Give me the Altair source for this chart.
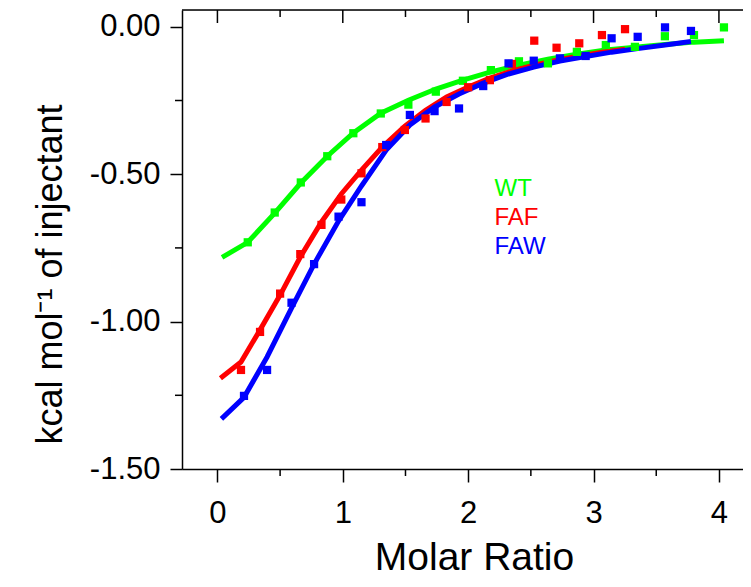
import altair as alt
import pandas as pd

# ---------------- data ----------------
series_names = ["WT", "FAF", "FAW"]
series_colors = ["#00FF00", "#FF0000", "#0000FF"]

wt_x = [0.242, 0.457, 0.665, 0.876, 1.084, 1.303, 1.523, 1.742, 1.958, 2.181,
        2.405, 2.636, 2.867, 3.098, 3.330, 3.569, 3.801, 4.040]
wt_y = [-0.731, -0.630, -0.528, -0.439, -0.361, -0.294, -0.264, -0.220, -0.183, -0.147,
        -0.117, -0.124, -0.085, -0.062, -0.068, -0.032, -0.028, -0.002]
wt_fit_x = [0.037] + wt_x
wt_fit_y = [-0.782, -0.731, -0.632, -0.530, -0.439, -0.360, -0.293, -0.249, -0.211, -0.181,
            -0.153, -0.130, -0.110, -0.093, -0.079, -0.069, -0.060, -0.052, -0.047]

faf_x = [0.188, 0.340, 0.500, 0.661, 0.830, 0.988, 1.149, 1.315, 1.495, 1.660,
         1.828, 2.000, 2.173, 2.349, 2.527, 2.705, 2.886, 3.067, 3.251]
faf_y = [-1.164, -1.035, -0.905, -0.771, -0.672, -0.586, -0.497, -0.408, -0.350, -0.311,
         -0.255, -0.205, -0.181, -0.126, -0.047, -0.071, -0.056, -0.028, -0.008]
faf_fit_x = [0.024] + faf_x
faf_fit_y = [-1.192, -1.137, -1.028, -0.910, -0.781, -0.662, -0.567, -0.486, -0.408, -0.337,
             -0.283, -0.238, -0.204, -0.174, -0.150, -0.130, -0.113, -0.099, -0.086, -0.076]

faw_x = [0.212, 0.396, 0.591, 0.771, 0.966, 1.149, 1.346, 1.535, 1.732, 1.927,
         2.120, 2.322, 2.523, 2.732, 2.937, 3.144, 3.352, 3.570, 3.777]
faw_y = [-1.252, -1.164, -0.936, -0.805, -0.644, -0.595, -0.401, -0.299, -0.286, -0.277,
         -0.201, -0.124, -0.115, -0.107, -0.099, -0.039, -0.034, -0.002, -0.014]
faw_fit_x = [0.032] + faw_x
faw_fit_y = [-1.330, -1.257, -1.120, -0.954, -0.805, -0.659, -0.540, -0.418, -0.333, -0.272,
             -0.228, -0.191, -0.160, -0.137, -0.116, -0.101, -0.086, -0.074, -0.062, -0.050]

x_major = [0, 1, 2, 3, 4]
x_minor = [0.5, 1.5, 2.5, 3.5]
y_major = [0.0, -0.5, -1.0, -1.5]
y_minor = [-0.25, -0.75, -1.25]

# ---------------- layout ----------------
W, H = 561, 459
FONT = "Liberation Sans"
xscale = alt.Scale(domain=[-0.2825, 4.192], nice=False, zero=False)
yscale = alt.Scale(domain=[-1.5, 0.057], nice=False, zero=False)

x_axis = alt.Axis(values=x_major, format="d", title="Molar Ratio",
                  tickSize=13, tickWidth=1.5, tickColor="black",
                  domainColor="black", domainWidth=1.5,
                  labelFont=FONT, labelFontSize=31, labelColor="black", labelPadding=16,
                  titleFont=FONT, titleFontSize=39, titleFontWeight="normal",
                  titleColor="black", titleX=292, titleY=69, titleBaseline="top",
                  grid=False)
y_axis = alt.Axis(values=y_major,
                  labelExpr="replace(format(datum.value, '.2f'), '\u2212', '-')",
                  title="kcal mol\u207b\u00b9 of injectant",
                  tickSize=12, tickWidth=1.5, tickColor="black",
                  domainColor="black", domainWidth=1.5,
                  labelFont=FONT, labelFontSize=31, labelColor="black", labelPadding=10,
                  titleFont=FONT, titleFontSize=36, titleFontWeight="normal",
                  titleColor="black", titleX=-113, titleY=264, titleBaseline="bottom",
                  grid=False)


def X(field="x"):
    return alt.X(field, type="quantitative", scale=xscale, axis=x_axis)


def Y(field="y"):
    return alt.Y(field, type="quantitative", scale=yscale, axis=y_axis)


pts = {"WT": (wt_x, wt_y), "FAF": (faf_x, faf_y), "FAW": (faw_x, faw_y)}
fits = {"WT": (wt_fit_x, wt_fit_y), "FAF": (faf_fit_x, faf_fit_y), "FAW": (faw_fit_x, faw_fit_y)}

layers = []
for name, col in zip(series_names, series_colors):
    fx, fy = fits[name]
    df = pd.DataFrame({"x": fx, "y": fy})
    layers.append(alt.Chart(df).mark_line(color=col, strokeWidth=5)
                  .encode(x=X(), y=Y()))
for name, col in zip(series_names, series_colors):
    px, py = pts[name]
    df = pd.DataFrame({"x": px, "y": py})
    layers.append(alt.Chart(df).mark_square(color=col, size=68, opacity=1)
                  .encode(x=X(), y=Y()))

# frame: top line
top_df = pd.DataFrame({"x": [0]})
layers.append(alt.Chart(top_df).mark_rule(color="black", strokeWidth=1.5)
              .encode(x=alt.value(0), x2=alt.value(W), y=alt.value(0)))

# top inward ticks
layers.append(alt.Chart(pd.DataFrame({"x": x_major})).mark_rule(color="black", strokeWidth=1.5)
              .encode(x=X(), y=alt.value(0), y2=alt.value(13)))
layers.append(alt.Chart(pd.DataFrame({"x": x_minor})).mark_rule(color="black", strokeWidth=1.5)
              .encode(x=X(), y=alt.value(0), y2=alt.value(7)))
# bottom minor ticks (outward)
layers.append(alt.Chart(pd.DataFrame({"x": x_minor})).mark_rule(color="black", strokeWidth=1.5)
              .encode(x=X(), y=alt.value(H), y2=alt.value(H + 7)))
# left minor ticks (outward)
layers.append(alt.Chart(pd.DataFrame({"y": y_minor})).mark_rule(color="black", strokeWidth=1.5)
              .encode(y=Y(), x=alt.value(-7), x2=alt.value(0)))

# series labels
lab_df = pd.DataFrame({"x": [2.21, 2.21, 2.21], "y": [-0.550, -0.649, -0.747],
                       "label": series_names, "col": series_colors})
layers.append(alt.Chart(lab_df).mark_text(align="left", baseline="middle", font=FONT, fontSize=24)
              .encode(x=X(), y=Y(), text="label:N",
                      color=alt.Color("col:N", scale=None, legend=None)))

chart = alt.layer(*layers).properties(
    width=W, height=H,
    padding={"left": 174, "top": 2, "right": 0, "bottom": 109},
    autosize=alt.AutoSizeParams(type="none"),
).configure_view(stroke=None).configure(background="white")

chart.save("out.html", embed_options={"renderer": "svg", "actions": False})
